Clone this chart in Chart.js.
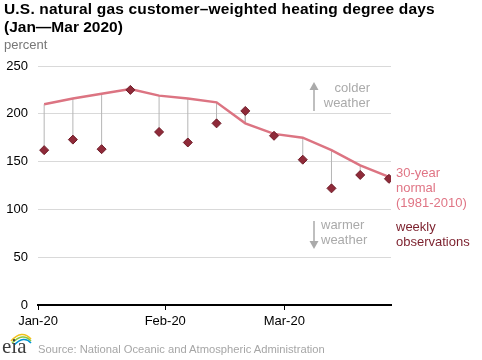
<!DOCTYPE html>
<html>
<head>
<meta charset="utf-8">
<script src="https://cdn.jsdelivr.net/npm/chart.js@4/dist/chart.umd.min.js"></script>
<style>
  body { margin: 0; background: #fff; }
  #wrap { position: relative; width: 482px; height: 360px; overflow: hidden; font-family: "Liberation Sans", Arial, sans-serif; }
  #chart { position: absolute; left: 0; top: 0; }
  .txt { position: absolute; white-space: nowrap; }
  #title { left: 4px; top: 0px; font-size: 15.5px; font-weight: bold; line-height: 18px; color: #000; }
  #title .l1 { letter-spacing: 0.18px; }
  #unit { left: 4px; top: 37px; font-size: 13px; line-height: 15px; color: #777; }
  #colder { right: 112px; top: 81px; font-size: 13px; line-height: 14.5px; color: #aaa; text-align: right; }
  #warmer { left: 321px; top: 217px; font-size: 13px; line-height: 15px; color: #aaa; }
  #normalLbl { left: 396px; top: 165px; font-size: 13px; line-height: 15px; color: #e07585; }
  #obsLbl { left: 396px; top: 220px; font-size: 13px; line-height: 14.5px; color: #7b1f2c; }
  #source { left: 38px; top: 342px; font-size: 11.2px; line-height: 14px; color: #a6a6a6; }
  #eia { left: 2px; top: 335px; font-family: "Liberation Serif", "DejaVu Serif", serif; font-size: 21px; line-height: 22px; color: #3c3c3c; }
</style>
</head>
<body>
<div id="wrap">
  <canvas id="chart" width="482" height="360"></canvas>
  <div class="txt" id="title"><span class="l1">U.S. natural gas customer–weighted heating degree days</span><br>(Jan—Mar 2020)</div>
  <div class="txt" id="unit">percent</div>
  <div class="txt" id="colder">colder<br>weather</div>
  <div class="txt" id="warmer">warmer<br>weather</div>
  <div class="txt" id="normalLbl">30-year<br>normal<br>(1981-2010)</div>
  <div class="txt" id="obsLbl">weekly<br>observations</div>
  <svg style="position:absolute;left:0;top:0" width="482" height="360">
    <line x1="314" y1="111" x2="314" y2="89" stroke="#aaa" stroke-width="1.5"/>
    <polygon points="309.5,90 318.5,90 314,82" fill="#aaa"/>
    <line x1="314" y1="221" x2="314" y2="242" stroke="#aaa" stroke-width="1.5"/>
    <polygon points="309.5,241 318.5,241 314,249" fill="#aaa"/>
    <path d="M11,341 Q22,329 31,339" stroke="#f2c21b" stroke-width="1.6" fill="none"/>
    <path d="M12,343 Q23,332 31,341" stroke="#8dc63f" stroke-width="1.6" fill="none"/>
    <path d="M14,345 Q24,335 31,343" stroke="#0096d6" stroke-width="1.6" fill="none"/>
  </svg>
  <div class="txt" id="eia">eia</div>
  <div class="txt" id="source">Source: National Oceanic and Atmospheric Administration</div>
</div>
<script>
// days since Jan 1 2020 for each weekly observation
const weekDays = [1.5, 8.5, 15.5, 22.5, 29.5, 36.5, 43.5, 50.5, 57.5, 64.5, 71.5, 78.5, 85.5];
const observations = [162, 173, 163, 225, 181, 170, 190, 203, 177, 152, 122, 136, 132];
const normalValues = [210, 216, 221, 226, 219, 216, 212, 190, 179, 175, 162, 146, 134];

const monthTicks = [0, 31, 60];
const monthLabels = ["Jan-20", "Feb-20", "Mar-20"];
const yTicks = [0, 50, 100, 150, 200, 250];

const normalData = weekDays.map((d, i) => ({ x: d, y: normalValues[i] }));
const obsData = weekDays.map((d, i) => ({ x: d, y: observations[i] }));
// gray drop lines: obs -> normal, broken by nulls
const dropData = [];
weekDays.forEach((d, i) => {
  dropData.push({ x: d, y: observations[i] });
  dropData.push({ x: d, y: normalValues[i] });
  dropData.push({ x: d, y: null });
});

const ctx = document.getElementById("chart").getContext("2d");

new Chart(ctx, {
  type: "line",
  data: {
    datasets: [
      {
        label: "drop",
        data: dropData,
        borderColor: "#b5b5b5",
        borderWidth: 1,
        pointRadius: 0,
        spanGaps: false,
        order: 3,
      },
      {
        label: "30-year normal",
        data: normalData,
        borderColor: "#dc7482",
        borderWidth: 2.5,
        pointRadius: 0,
        tension: 0,
        order: 2,
      },
      {
        label: "weekly observations",
        data: obsData,
        showLine: false,
        pointStyle: "rectRot",
        pointRadius: 4.5,
        pointBackgroundColor: "#8f2a39",
        pointBorderColor: "#6e1b27",
        pointBorderWidth: 1,
        order: 1,
      },
    ],
  },
  options: {
    responsive: false,
    animation: false,
    layout: { padding: { top: 66, right: 91, bottom: 25, left: 0 } },
    plugins: {
      legend: { display: false },
      tooltip: { enabled: false },
      title: { display: false },
    },
    scales: {
      x: {
        type: "linear",
        min: 0,
        max: 86,
        afterBuildTicks: (scale) => {
          scale.ticks = monthTicks.map((v) => ({ value: v }));
        },
        afterFit: (scale) => {
          scale.height = 30;
        },
        ticks: {
          autoSkip: false,
          maxRotation: 0,
          padding: 4,
          color: "#000",
          font: { family: "Liberation Sans", size: 13 },
          callback: function (value) {
            const idx = monthTicks.indexOf(value);
            return idx >= 0 ? monthLabels[idx] : "";
          },
        },
        grid: {
          drawOnChartArea: false,
          drawTicks: true,
          tickLength: 5,
          color: "#000",
        },
        border: { color: "#000", width: 2 },
      },
      y: {
        min: 0,
        max: 250,
        afterBuildTicks: (scale) => {
          scale.ticks = yTicks.map((v) => ({ value: v }));
        },
        afterFit: (scale) => {
          scale.width = 38;
        },
        ticks: {
          padding: 10,
          color: "#000",
          font: { family: "Liberation Sans", size: 13 },
        },
        grid: { color: "#d9d9d9", drawTicks: false },
        border: { display: false },
      },
    },
  },
});
</script>
</body>
</html>
